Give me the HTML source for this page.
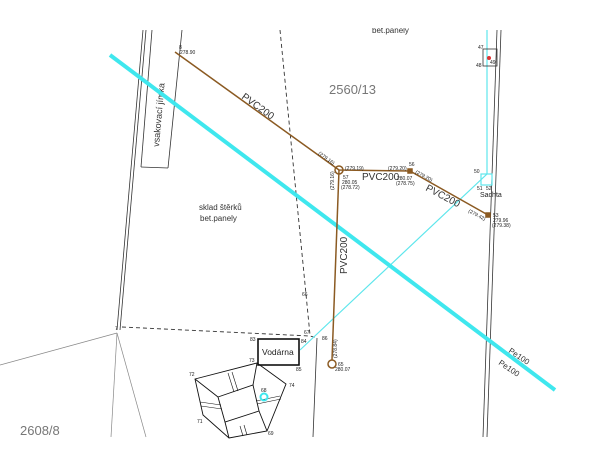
<!DOCTYPE html>
<html><head><meta charset="utf-8"><style>
html,body{margin:0;padding:0;background:#fff}
svg{display:block}
text{font-family:"Liberation Sans",sans-serif}
</style></head><body>
<svg width="600" height="469" viewBox="0 0 600 469" xmlns="http://www.w3.org/2000/svg">
<rect width="600" height="469" fill="#fff"/>
<g stroke="#333" stroke-width="0.8" fill="none">
<line x1="143" y1="30" x2="117" y2="330"/>
<line x1="146" y1="30" x2="120" y2="330"/>
<line x1="152" y1="30" x2="141" y2="167"/>
<line x1="182" y1="30" x2="168" y2="168"/>
<line x1="141" y1="167" x2="168" y2="168"/>
<line x1="497" y1="30" x2="483" y2="437"/>
<line x1="501" y1="30" x2="487" y2="437"/>
<line x1="317" y1="338" x2="313" y2="437"/>
</g>
<g stroke="#888" stroke-width="0.7" fill="none">
<line x1="117" y1="333" x2="0" y2="365"/>
<line x1="117" y1="333" x2="111" y2="437"/>
<line x1="117" y1="333" x2="146" y2="437"/>
</g>
<g stroke="#333" stroke-width="0.9" fill="none" stroke-dasharray="4,3">
<polyline points="280,30 310,335"/>
<polyline points="122,327 310,336 317,338"/>
</g>
<text x="0" y="0" font-size="9" fill="#333" transform="translate(159,147) rotate(-85)">vsakovací jímka</text>
<g stroke="#5ee6ec" stroke-width="1.2" fill="none">
<polyline points="300,350 487,174 487,30"/>
<rect x="481" y="174" width="11" height="11"/>
</g>
<line x1="110" y1="55" x2="555" y2="390" stroke="#3fe7ee" stroke-width="4"/>
<g stroke="#8b5a22" stroke-width="1.5" fill="none">
<polyline points="175,52 339,170 410,171 488,215"/>
<line x1="339" y1="170" x2="332" y2="360"/>
<circle cx="339" cy="170" r="4"/>
<circle cx="332" cy="364" r="4"/>
<rect x="408" y="169" width="4" height="4" fill="#8b5a22"/>
<rect x="486" y="213" width="4" height="4" fill="#8b5a22"/>
</g>
<g font-size="10" fill="#333">
<text transform="translate(241,98) rotate(36)">PVC200</text>
<text x="362" y="180">PVC200</text>
<text transform="translate(425,190) rotate(28)">PVC200</text>
<text transform="translate(347,274) rotate(-90)">PVC200</text>
</g>
<g font-size="5" fill="#222">
<text x="179" y="49">8</text><text x="180" y="54">278.90</text>
<text transform="translate(318,154) rotate(36)">(279.16)</text>
<text x="345" y="170">(279.19)</text>
<text transform="translate(334,190) rotate(-90)">(279.16)</text>
<text x="343" y="179">57</text><text x="342" y="184">280.05</text><text x="341" y="189">(278.72)</text>
<text x="388" y="170">(279.20)</text><text x="409" y="166">56</text>
<text x="397" y="180">280.07</text><text x="396" y="185">(278.75)</text>
<text transform="translate(415,173) rotate(28)">(279.20)</text>
<text transform="translate(468,212) rotate(28)">(279.42)</text>
<text x="493" y="217">53</text><text x="493" y="222">279.96</text><text x="492" y="227">(279.38)</text>
<text x="474" y="173">50</text><text x="477" y="190">51</text><text x="486" y="190">52</text>
<text x="478" y="49">47</text><text x="476" y="67">48</text><text x="490" y="64">49</text>
<text x="302" y="296">66</text>
<text x="304" y="334">67</text><text x="322" y="340">86</text>
<text x="250" y="341">83</text><text x="301" y="343">84</text><text x="296" y="371">85</text>
<text x="249" y="362">73</text><text x="189" y="376">72</text><text x="289" y="387">74</text>
<text x="197" y="423">71</text><text x="268" y="435">69</text><text x="261" y="392">68</text>
<text transform="translate(337,358) rotate(-90)">(278.84)</text>
<text x="338" y="366">65</text><text x="335" y="371">280.07</text>
<text x="115" y="330">7</text>
</g>
<g font-size="7" fill="#222"><text x="480" y="197">Sachta</text></g>
<rect x="483" y="49" width="14" height="17" fill="none" stroke="#333" stroke-width="0.8"/>
<circle cx="489" cy="58" r="2" fill="#d33"/>
<rect x="258" y="339" width="41" height="26" fill="none" stroke="#111" stroke-width="1.6"/>
<text x="262" y="355" font-size="8.5" fill="#222">Vodárna</text>
<g stroke="#111" stroke-width="0.9" fill="none">
<polygon points="195,379 257,363 286,384 267,431 229,438 203,415"/>
<polygon points="218,397 253,385 259,411 225,422"/>
<line x1="195" y1="379" x2="218" y2="397"/>
<line x1="257" y1="363" x2="253" y2="385"/>
<line x1="267" y1="431" x2="259" y2="411"/>
<line x1="229" y1="438" x2="225" y2="422"/>
<g stroke-width="0.6">
<line x1="228" y1="373" x2="234" y2="392"/><line x1="232" y1="372" x2="238" y2="391"/>
<line x1="240" y1="426" x2="243" y2="436"/><line x1="244" y1="425" x2="247" y2="435"/>
<line x1="200" y1="402" x2="221" y2="405"/><line x1="201" y1="406" x2="222" y2="409"/>
<line x1="256" y1="401" x2="280" y2="396"/><line x1="257" y1="404" x2="281" y2="399"/>
</g>
</g>
<circle cx="264" cy="397" r="3.5" fill="none" stroke="#3fe7ee" stroke-width="2"/>
<g fill="#777" font-size="13">
<text x="329" y="94">2560/13</text>
<text x="20" y="435">2608/8</text>
</g>
<g fill="#333" font-size="8">
<text x="372" y="33">bet.panely</text>
<text x="199" y="210">sklad štěrků</text>
<text x="200" y="221">bet.panely</text>
<text transform="translate(508,352) rotate(34)">Pe100</text>
<text transform="translate(498,364) rotate(34)">Pe100</text>
</g>
<rect x="0" y="0" width="600" height="28" fill="#fff"/>
</svg>
</body></html>
